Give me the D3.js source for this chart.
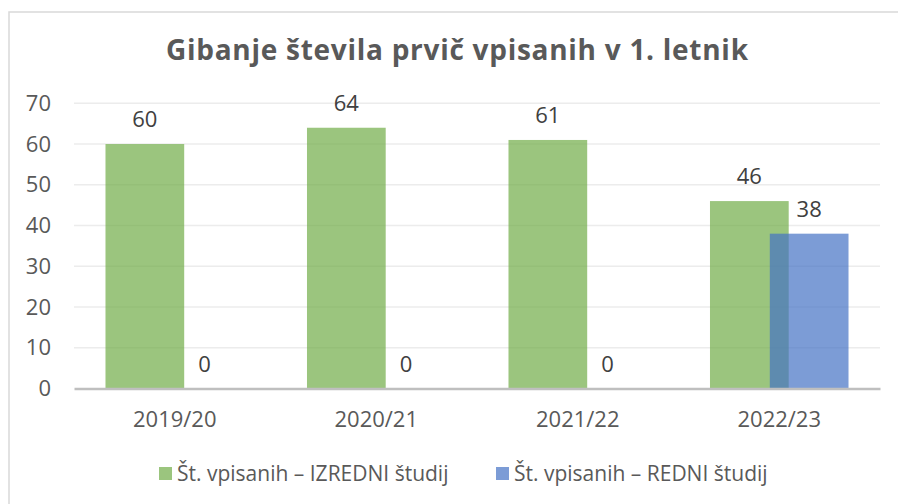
<!DOCTYPE html>
<html>
<head>
<meta charset="utf-8">
<script src="https://cdn.jsdelivr.net/npm/d3@7"></script>
<style>
  html, body { margin: 0; padding: 0; background: #fff; }
  svg { display: block; font-family: "Open Sans", sans-serif; }
</style>
</head>
<body>
<svg id="chart"></svg>
<script>
const categories = ["2019/20", "2020/21", "2021/22", "2022/23"];
const izredni = [60, 64, 61, 46];
const redni = [0, 0, 0, 38];
const seriesNames = ["Št. vpisanih – IZREDNI študij", "Št. vpisanih – REDNI študij"];
const yTicks = [0, 10, 20, 30, 40, 50, 60, 70];
const title = "Gibanje števila prvič vpisanih v 1. letnik";

const width = 898, height = 504;
const colors = ["#70AD47", "#4472C4"];

const svg = d3.select("#chart")
    .attr("width", width)
    .attr("height", height);

// chart frame (left and top edges visible)
svg.append("path")
    .attr("d", "M9,504 L9,12 L898,12")
    .attr("fill", "none")
    .attr("stroke", "#d9d9d9")
    .attr("stroke-width", 1.5);

const x = d3.scaleBand().domain(categories).range([74, 880]);
const y = d3.scaleLinear().domain([0, 70]).range([388.5, 103.3]);

// title
svg.append("text")
    .attr("x", 166)
    .attr("y", 59.5)
    .attr("textLength", 582)
    .attr("lengthAdjust", "spacing")
    .style("font-family", "'Open Sans', sans-serif")
    .style("font-weight", 700)
    .style("font-size", "28px")
    .style("fill", "#595959")
    .text(title);

// gridlines
svg.append("g")
    .selectAll("line")
    .data(yTicks.filter(d => d > 0))
    .join("line")
    .attr("x1", 74).attr("x2", 880)
    .attr("y1", d => y(d)).attr("y2", d => y(d))
    .attr("stroke", "#ececec")
    .attr("stroke-width", 1.5);

// y axis labels
const yAxis = d3.axisLeft(y).tickValues(yTicks).tickSize(0).tickPadding(0);
const yg = svg.append("g").attr("transform", "translate(51,0)").call(yAxis);
yg.select(".domain").remove();
yg.selectAll("text")
    .style("font-family", "'Open Sans', sans-serif")
    .style("font-size", "22px")
    .style("fill", "#595959");

// bars
const gap = 0.8, overlap = 0.24;
const barW = x.bandwidth() / (2 - overlap + gap);
const groupW = barW * (2 - overlap);
const series = [izredni, redni];

series.forEach((vals, si) => {
    const g = svg.append("g");
    const bx = (c) => x(c) + (x.bandwidth() - groupW) / 2 + si * barW * (1 - overlap);
    g.selectAll("rect")
        .data(vals)
        .join("rect")
        .attr("x", (d, i) => bx(categories[i]))
        .attr("width", barW)
        .attr("y", d => y(d))
        .attr("height", d => y(0) - y(d))
        .attr("fill", colors[si])
        .attr("fill-opacity", 0.7);
    g.selectAll("text")
        .data(vals)
        .join("text")
        .attr("x", (d, i) => bx(categories[i]) + barW / 2)
        .attr("y", d => y(d) - 17)
        .attr("text-anchor", "middle")
        .style("font-size", "22px")
        .style("fill", "#404040")
        .text(d => d);
});

// x axis
const xAxis = d3.axisBottom(x).tickSize(0).tickPadding(0);
const xg = svg.append("g").attr("transform", "translate(0,388.5)").call(xAxis);
xg.select(".domain").attr("stroke", "#bfbfbf").attr("stroke-width", 2.5);
xg.selectAll("text")
    .attr("dy", 0)
    .attr("y", 38)
    .style("font-family", "'Open Sans', sans-serif")
    .style("font-size", "22px")
    .style("fill", "#595959");

// legend
const legendX = [159, 496];
const legend = svg.append("g");
seriesNames.forEach((name, i) => {
    legend.append("rect")
        .attr("x", legendX[i])
        .attr("y", 467)
        .attr("width", 13)
        .attr("height", 13)
        .attr("fill", colors[i])
        .attr("fill-opacity", 0.7);
    legend.append("text")
        .attr("x", legendX[i] + 18)
        .attr("y", 481)
        .style("font-size", "21px")
        .style("fill", "#595959")
        .text(name);
});
</script>
</body>
</html>
